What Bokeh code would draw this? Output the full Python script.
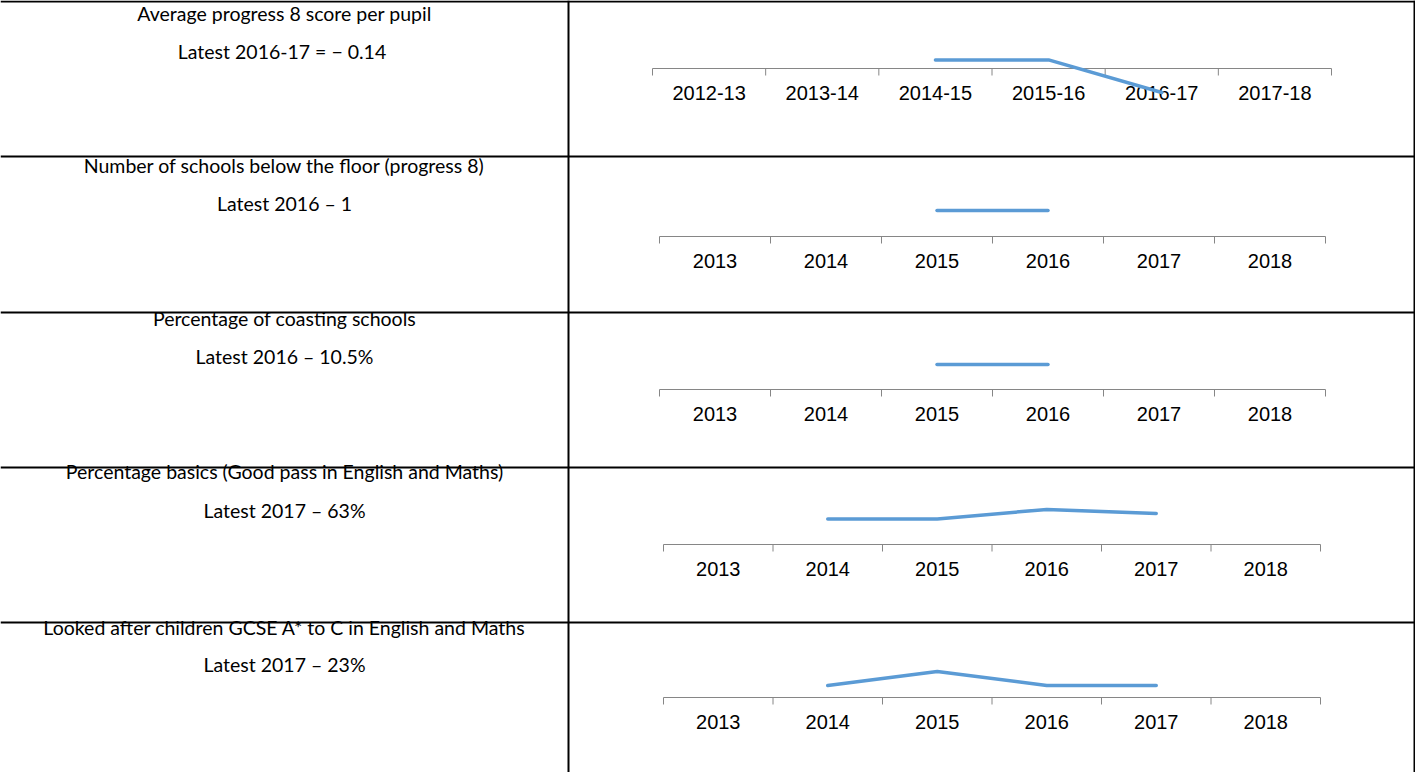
import math
from bokeh.plotting import figure
from bokeh.models import Range1d
from bokeh.core.properties import value
from bokeh.embed import file_html
from bokeh.resources import INLINE

# ---------------- data ----------------
titles = [
    "Average progress 8 score per pupil",
    "Number of schools below the floor (progress 8)",
    "Percentage of coasting schools",
    "Percentage basics (Good pass in English and Maths)",
    "Looked after children GCSE A* to C in English and Maths",
]
latest = [
    "Latest 2016-17 =  \u2212 0.14",
    "Latest 2016 \u2013 1",
    "Latest 2016 \u2013 10.5%",
    "Latest 2017 \u2013 63%",
    "Latest 2017 \u2013 23%",
]
cats_p8 = ["2012-13", "2013-14", "2014-15", "2015-16", "2016-17", "2017-18"]
cats_years = ["2013", "2014", "2015", "2016", "2017", "2018"]
nan = float("nan")
progress8 = [nan, nan, 0.05, 0.05, -0.14, nan]
schools_below_floor = [nan, nan, 1, 1, nan, nan]
coasting_pct = [nan, nan, 10.5, 10.5, nan, nan]
basics_pct = [nan, 59, 59, 66, 63, nan]
lac_pct = [nan, 23, 30, 23, 23, nan]

rows = [
    (cats_p8, progress8),
    (cats_years, schools_below_floor),
    (cats_years, coasting_pct),
    (cats_years, basics_pct),
    (cats_years, lac_pct),
]

# ---------------- layout / style ----------------
W, H = 1415, 772
divider_x = 568
row_lines_y = [156, 312, 467, 622]
title_y = [13, 165, 318, 471, 627]
latest_y = [51, 203, 356, 510, 664]
# per sparkline: axis left px, axis right px, axis y px, axis-crossing value, px per unit
spark = [
    (652, 1331, 68, 0.0, 24 / 0.14),
    (659, 1325, 236, 0.0, 26 / 1.0),
    (659, 1325, 389, 0.0, 25 / 10.5),
    (663, 1320, 544, 40.0, 31 / 23.0),
    (663, 1320, 697, 17.0, 12 / 6.0),
]
LINE_COLOR = "#5B9BD5"
AXIS_COLOR = "#868686"

p = figure(width=W, height=H, x_range=Range1d(0, W), y_range=Range1d(H, 0),
           x_axis_type=None, y_axis_type=None, toolbar_location=None,
           output_backend="svg", min_border=0, outline_line_color=None,
           background_fill_color="white", border_fill_color="white")
p.grid.visible = False

# table borders
bx0 = [0, divider_x, W - 1] + [0] * len(row_lines_y)
by0 = [1, 0, 0] + row_lines_y
bx1 = [W, divider_x, W - 1] + [W] * len(row_lines_y)
by1 = [1, H, H] + row_lines_y
p.segment(x0=bx0, y0=by0, x1=bx1, y1=by1, line_color="black", line_width=2)

# left column texts
font = value("Lato")
p.text(x=[divider_x / 2] * len(titles), y=title_y, text=titles, text_font=font,
       text_font_size="19.5px", text_align="center", text_baseline="middle", text_color="black")
p.text(x=[divider_x / 2] * len(latest), y=latest_y, text=latest, text_font=font,
       text_font_size="19.5px", text_align="center", text_baseline="middle", text_color="black")

# sparklines
for i, ((cats, vals), (xl, xr, ya, base, ppu)) in enumerate(zip(rows, spark)):
    n = len(cats)
    xppu = (xr - xl) / n
    xname, yname = f"x{i}", f"y{i}"
    p.extra_x_ranges[xname] = Range1d(-xl / xppu, n + (W - xr) / xppu)
    p.extra_y_ranges[yname] = Range1d(base - (H - ya) / ppu, base + ya / ppu)
    kw = dict(x_range_name=xname, y_range_name=yname)
    # axis line
    p.segment(x0=[0], y0=[base], x1=[n], y1=[base], line_color=AXIS_COLOR, line_width=1, **kw)
    # tick marks at category boundaries
    p.ray(x=list(range(n + 1)), y=[base] * (n + 1), length=7, length_units="screen",
          angle=-math.pi / 2, line_color=AXIS_COLOR, line_width=1, **kw)
    # category labels
    p.text(x=[k + 0.5 for k in range(n)], y=[base] * n, text=cats, y_offset=24,
           text_font=value("Liberation Sans"), text_font_size="20px",
           text_align="center", text_baseline="middle", text_color="black", **kw)
    # series line
    p.line(x=[k + 0.5 for k in range(n)], y=vals, line_color=LINE_COLOR, line_width=3.5,
           line_cap="round", line_join="round", **kw)

open("out.html", "w").write(file_html(p, INLINE))
